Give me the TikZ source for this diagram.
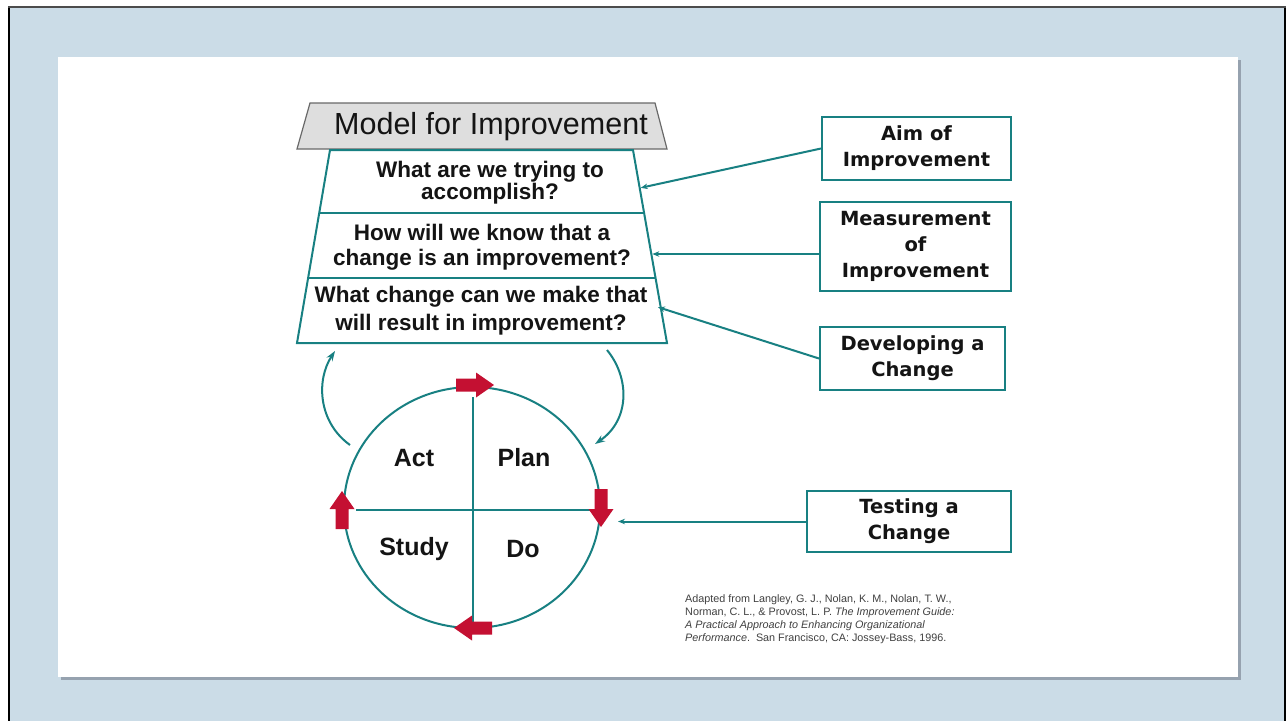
\documentclass[tikz,border=0pt]{standalone}
\usepackage{fontspec}
\setmainfont{Liberation Sans}
\newfontfamily\boxfont{DejaVu Sans}
\usetikzlibrary{shapes.geometric,arrows.meta,calc}
\definecolor{tealc}{RGB}{24,128,130}
\definecolor{arrred}{RGB}{196,16,50}
\definecolor{bgblue}{RGB}{203,220,231}
\definecolor{hdrgray}{RGB}{222,222,222}
\definecolor{hdrline}{RGB}{105,105,105}
\definecolor{txt}{RGB}{20,20,20}
\definecolor{shadowc}{RGB}{150,162,175}
\tikzset{
  sect/.style={align=center, text=txt, inner sep=0, font=\bfseries},
  sidebox/.style={draw=tealc, line width=2, fill=white, align=center, text=txt, inner sep=0,
                  font=\boxfont\bfseries\fontsize{19.5}{26}\selectfont},
  conn/.style={draw=tealc, line width=2, -{Stealth[length=7,width=5.5]}},
  loopa/.style={draw=tealc, line width=2, -{Stealth[length=10,width=7]}},
  quad/.style={text=txt, inner sep=0, font=\bfseries\fontsize{25}{28}\selectfont},
  blockarrow/.pic={\fill[arrred] (-19,-6.5) -- (1,-6.5) -- (1,-12.5) -- (19,0) -- (1,12.5) -- (1,6.5) -- (-19,6.5) -- cycle;}
}
\begin{document}
\begin{tikzpicture}[x=1pt,y=-1pt]
\useasboundingbox (0,0) rectangle (1288,721);
% frame and panel
\fill[white] (0,0) rectangle (1288,721);
\fill[bgblue] (9,7) rectangle (1285,721);
\draw[black, line width=2.5] (9,7) -- (9,721);
\draw[black, line width=2.5] (1285,7) -- (1285,721);
\draw[black!70, line width=2] (8,7) -- (1286,7);
\fill[shadowc] (61,60) rectangle (1241,680);
\fill[white] (58,57) rectangle (1238,677);

% header trapezoid
\filldraw[fill=hdrgray, draw=hdrline, line width=1.2] (310,103) -- (655,103) -- (667,149) -- (297,149) -- cycle;
\node[text=txt, inner sep=0, font=\fontsize{30.5}{32}\selectfont] (title) at (491,127) {Model for Improvement};

% question trapezoid
\coordinate (tl) at (330,150);
\coordinate (tr) at (633,150);
\coordinate (br) at (667,343);
\coordinate (bl) at (297,343);
\draw[tealc, line width=2] (tl) -- (tr) -- (br) -- (bl) -- cycle;
\draw[tealc, line width=2] ($(tl)!0.326!(bl)$) -- ($(tr)!0.326!(br)$);
\draw[tealc, line width=2] ($(tl)!0.663!(bl)$) -- ($(tr)!0.663!(br)$);
\node[sect, font=\bfseries\fontsize{22.5}{22}\selectfont] (q1) at (490,183) {What are we trying to\\accomplish?};
\node[sect, font=\bfseries\fontsize{22.5}{25}\selectfont] (q2) at (482,247) {How will we know that a\\change is an improvement?};
\node[sect, font=\bfseries\fontsize{22.5}{28}\selectfont] (q3) at (481,311) {What change can we make that\\will result in improvement?};
\coordinate (e1) at ($(tr)!0.197!(br)$);
\coordinate (e2) at ($(tr)!0.539!(br)$);
\coordinate (e3) at ($(tr)!0.819!(br)$);

% side boxes
\node[sidebox, minimum width=189, minimum height=63] (aim) at (916.5,148.5) {Aim of\\Improvement};
\node[sidebox, minimum width=191, minimum height=89] (meas) at (915.5,246) {Measurement\\of\\Improvement};
\node[sidebox, minimum width=185, minimum height=63] (dev) at (912.5,358.5) {Developing a\\Change};
\node[sidebox, minimum width=204, minimum height=61] (test) at (909,521.5) {Testing a\\Change};

\coordinate (m0) at ($(meas.west)+(0,8)$);
\draw[conn, shorten >=1] (aim.west) -- (e1);
\draw[conn, shorten >=1] (m0) -- (e2 |- m0);
\draw[conn, shorten >=-3] (dev.west) -- (e3);
\coordinate (t1) at (618,521.5);
\draw[conn] (test.west) -- (t1);

% PDCA cycle
\node[draw=tealc, line width=2, ellipse, minimum width=256, minimum height=241, inner sep=0] (cyc) at (472,507.5) {};
\coordinate (vt) at (473,397);
\coordinate (vb) at (473,628);
\coordinate (hl) at (356,510);
\coordinate (hr) at (600,510);
\draw[tealc, line width=2] (vt) -- (vb);
\draw[tealc, line width=2] (hl) -- (hr);
\pic at (475,385) {blockarrow};
\pic[rotate=-90] at (601,508) {blockarrow};
\pic[rotate=180] at (473,628) {blockarrow};
\pic[rotate=90] at (342,510) {blockarrow};
\node[quad] (act) at (414,458) {Act};
\node[quad] (plan) at (524,458) {Plan};
\node[quad] (study) at (414,549) {Study};
\node[quad] (do) at (523,549) {Do};

% loop arrows
\coordinate (la1) at (350,445);
\coordinate (la2) at (335,351);
\draw[loopa] (la1) .. controls (318,422) and (316,380) .. (la2);
\coordinate (ra1) at (607,350);
\coordinate (ra2) at (595,444);
\draw[loopa] (ra1) .. controls (630,378) and (630,420) .. (ra2);

% citation
\node[anchor=north west, align=left, inner sep=0, text=black!75, font=\fontsize{10.8}{13}\selectfont] (cite) at (685,594)
{Adapted from Langley, G. J., Nolan, K. M., Nolan, T. W.,\\
Norman, C. L., \& Provost, L. P. \textit{The Improvement Guide:}\\
\textit{A Practical Approach to Enhancing Organizational}\\
\textit{Performance}.\ \ San Francisco, CA: Jossey-Bass, 1996.};
\end{tikzpicture}
\end{document}
